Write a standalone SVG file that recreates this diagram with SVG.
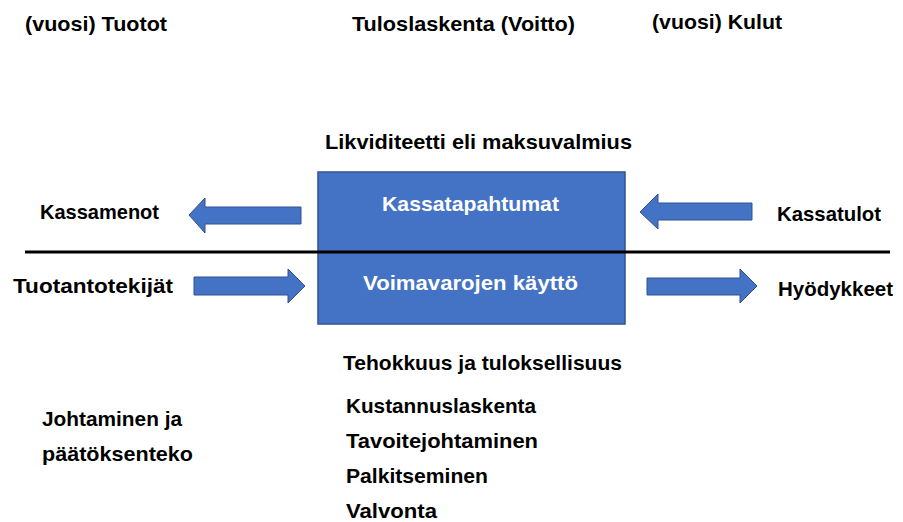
<svg xmlns="http://www.w3.org/2000/svg" width="903" height="522" viewBox="0 0 903 522">
<style>
.t{font-family:"Liberation Sans",Arial,sans-serif;font-weight:bold;font-size:21px;fill:#000}
.w{fill:#fff}
.box{fill:#4472C4;stroke:#2F528F;stroke-width:1.5}
.arr{fill:#4472C4;stroke:#2F528F;stroke-width:1}
</style>
<rect width="903" height="522" fill="#fff"/>
<g id="labels">
<text class="t" x="25" y="31" textLength="142" lengthAdjust="spacingAndGlyphs">(vuosi) Tuotot</text>
<text class="t" x="352" y="31" textLength="223" lengthAdjust="spacingAndGlyphs">Tuloslaskenta (Voitto)</text>
<text class="t" x="652" y="29" textLength="130" lengthAdjust="spacingAndGlyphs">(vuosi) Kulut</text>
<text class="t" x="325" y="149" textLength="307" lengthAdjust="spacingAndGlyphs">Likviditeetti eli maksuvalmius</text>
<text class="t" x="40" y="219" textLength="119" lengthAdjust="spacingAndGlyphs">Kassamenot</text>
<text class="t" x="13" y="293" textLength="160" lengthAdjust="spacingAndGlyphs">Tuotantotekijät</text>
<text class="t" x="777" y="221" textLength="104" lengthAdjust="spacingAndGlyphs">Kassatulot</text>
<text class="t" x="778" y="296" textLength="115" lengthAdjust="spacingAndGlyphs">Hyödykkeet</text>
<text class="t" x="343" y="370" textLength="279" lengthAdjust="spacingAndGlyphs">Tehokkuus ja tuloksellisuus</text>
<text class="t" x="346" y="413" textLength="190" lengthAdjust="spacingAndGlyphs">Kustannuslaskenta</text>
<text class="t" x="346" y="448" textLength="192" lengthAdjust="spacingAndGlyphs">Tavoitejohtaminen</text>
<text class="t" x="346" y="483" textLength="142" lengthAdjust="spacingAndGlyphs">Palkitseminen</text>
<text class="t" x="346" y="518" textLength="91" lengthAdjust="spacingAndGlyphs">Valvonta</text>
<text class="t" x="42" y="426" textLength="140" lengthAdjust="spacingAndGlyphs">Johtaminen ja</text>
<text class="t" x="42" y="461" textLength="151" lengthAdjust="spacingAndGlyphs">päätöksenteko</text>
</g>
<g id="box">
<rect class="box" x="318" y="172" width="307" height="152"/>
<text class="t w" x="382" y="211" textLength="177" lengthAdjust="spacingAndGlyphs">Kassatapahtumat</text>
<text class="t w" x="363" y="290" textLength="215" lengthAdjust="spacingAndGlyphs">Voimavarojen käyttö</text>
</g>
<g id="connectors">
<line x1="25" y1="252" x2="890" y2="252" stroke="#000" stroke-width="3"/>
<polygon class="arr" points="301,207 205,207 205,198 189,215 205,233 205,224 301,224"/>
<polygon class="arr" points="194,277 288,277 288,269 305,286 288,303 288,295 194,295"/>
<polygon class="arr" points="752,203 658,203 658,194 640,212 658,229 658,220 752,220"/>
<polygon class="arr" points="647,278 740,278 740,269 757,286 740,303 740,295 647,295"/>
</g>
</svg>
